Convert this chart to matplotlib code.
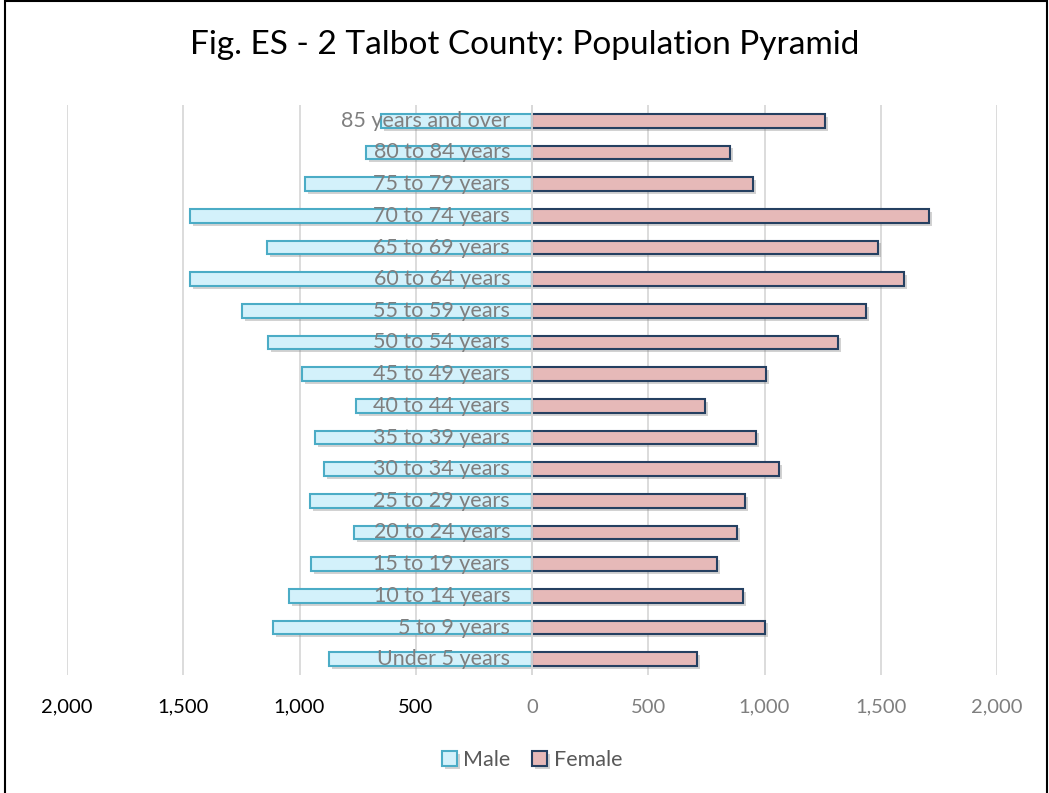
import numpy as np
import matplotlib
matplotlib.use("Agg")
import matplotlib.pyplot as plt
import matplotlib.patheffects as pe
from matplotlib.patches import Rectangle

# data
age_groups = ["Under 5 years", "5 to 9 years", "10 to 14 years", "15 to 19 years",
              "20 to 24 years", "25 to 29 years", "30 to 34 years", "35 to 39 years",
              "40 to 44 years", "45 to 49 years", "50 to 54 years", "55 to 59 years",
              "60 to 64 years", "65 to 69 years", "70 to 74 years", "75 to 79 years",
              "80 to 84 years", "85 years and over"]
male = [873, 1114, 1045, 951, 766, 955, 895, 933, 757, 989,
        1135, 1247, 1471, 1140, 1471, 976, 714, 649]
female = [710, 1002, 908, 796, 882, 916, 1062, 963, 744, 1006,
          1316, 1437, 1600, 1488, 1708, 951, 852, 1260]
tick_values = [-2000, -1500, -1000, -500, 0, 500, 1000, 1500, 2000]

plt.rcParams['font.family'] = ['Lato', 'DejaVu Sans']

fig = plt.figure(figsize=(10.49, 7.93), dpi=100)
ax = fig.add_axes([67 / 1049, 118 / 793, 930 / 1049, 570 / 793])

y = np.arange(len(age_groups))
shadow = [pe.SimplePatchShadow(offset=(2, -2), alpha=0.35, shadow_rgbFace="#808080"), pe.Normal()]

ax.barh(y, [-m for m in male], height=0.44, color="#d3f1fb", edgecolor="#4bacc6",
        linewidth=1.5, label="Male", path_effects=shadow, zorder=3)
ax.barh(y, female, height=0.44, color="#e6b9b8", edgecolor="#254061",
        linewidth=1.5, label="Female", path_effects=shadow, zorder=3)

for i, lab in enumerate(age_groups):
    ax.annotate(lab, xy=(0, i), xytext=(-22, 0), textcoords="offset pixels",
                ha="right", va="center", fontsize=15.5, color="#7f7f7f", zorder=5)

ax.set_xlim(-2000, 2000)
ax.set_ylim(-0.5, len(age_groups) - 0.5)
ax.set_xticks(tick_values)
ax.set_xticklabels([f"{abs(v):,}" for v in tick_values], fontsize=14.5)
for v, t in zip(tick_values, ax.get_xticklabels()):
    t.set_color("#000000" if v < 0 else "#7f7f7f")
ax.tick_params(axis="x", length=0, pad=17)
ax.set_yticks([])
ax.grid(axis="x", color="#d9d9d9", linewidth=1.3, zorder=0)
ax.axvline(0, color="#d9d9d9", linewidth=1.3, zorder=4)
for s in ax.spines.values():
    s.set_visible(False)

fig.text(0.5, 1 - 45 / 793, "Fig. ES - 2 Talbot County: Population Pyramid",
         ha="center", va="center", fontsize=24, color="#000000")

leg = fig.legend(loc="center", bbox_to_anchor=(532 / 1049, 1 - 760 / 793), ncol=2,
                 frameon=False, fontsize=15.5, handlelength=0.7, handleheight=0.7,
                 handletextpad=0.3, columnspacing=1.0)
for t in leg.get_texts():
    t.set_color("#595959")

fig.patches.append(Rectangle((5 / 1049, -0.01), 1042 / 1049, 1.01 - 1.5 / 793,
                             transform=fig.transFigure, fill=False,
                             edgecolor="black", linewidth=1.5))

fig.savefig("out.png", dpi=100, facecolor="white")
